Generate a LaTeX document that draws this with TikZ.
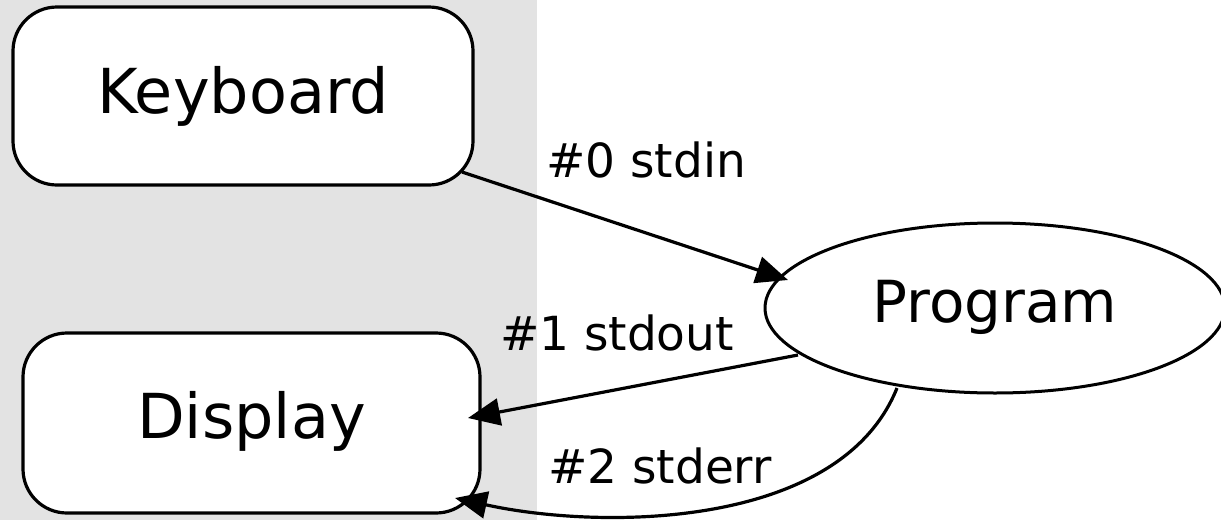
\documentclass[tikz,border=0pt]{standalone}
\usepackage{fontspec}
\setmainfont{DejaVu Sans}
\usetikzlibrary{arrows.meta,calc,shapes.geometric}
\definecolor{bggray}{RGB}{227,227,227}
\begin{document}
\begin{tikzpicture}[x=1pt,y=-1pt,
  box/.style={draw,line width=3.2pt,fill=white,rounded corners=44pt,inner sep=0pt,outer sep=0pt,font=\fontsize{62}{62}\selectfont},
  ell/.style={draw,ellipse,line width=3pt,fill=white,inner sep=0pt,outer sep=0pt,font=\fontsize{58}{58}\selectfont,text height=42pt,text depth=14pt},
  conn/.style={line width=3.2pt,-{Triangle[length=32pt,width=27pt]}},
  lbl/.style={font=\fontsize{47}{47}\selectfont,anchor=base,inner sep=0pt}]
\useasboundingbox (0,0) rectangle (1221,520);
\fill[bggray] (0,0) rectangle (537,520);
\node[box,minimum width=460pt,minimum height=178pt,text height=44pt,text depth=10pt] (kb) at (243,96) {Keyboard};
\node[box,minimum width=457pt,minimum height=180pt,text height=44pt,text depth=14pt] (disp) at (251.5,423) {Display};
\node[ell,minimum width=460pt,minimum height=170pt] (prog) at (995,308) {Program};
\draw[conn] ($(kb.south east)+(-11,-13)$) -- ($(prog.west)+(23,-28)$);
\draw[conn] ($(prog.west)+(33,47)$) -- ($(disp.east)+(-12,-5)$);
\draw[conn] ($(prog.south)+(-98,-5)$) .. controls (840,530) and (600,530) .. ($(disp.south east)+(-25,-15)$);
\node[lbl] (l0) at (646,177) {\#0 stdin};
\node[lbl] (l1) at (617,350) {\#1 stdout};
\node[lbl] (l2) at (660,483) {\#2 stderr};
\end{tikzpicture}
\end{document}
